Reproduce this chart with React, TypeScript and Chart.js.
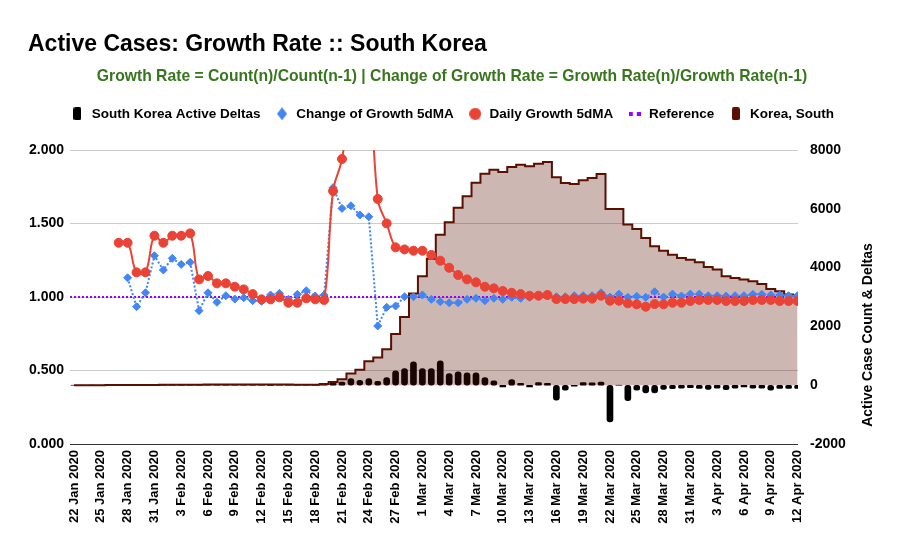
import { useEffect, useRef } from 'react';
import { Chart, registerables } from 'chart.js';

Chart.register(...registerables);

const TITLE = 'Active Cases: Growth Rate :: South Korea';
const SUBTITLE = 'Growth Rate = Count(n)/Count(n-1) | Change of Growth Rate = Growth Rate(n)/Growth Rate(n-1)';
const RIGHT_AXIS_TITLE = 'Active Case Count & Deltas';

const dates = [
  '22 Jan 2020', '23 Jan 2020', '24 Jan 2020', '25 Jan 2020', '26 Jan 2020', '27 Jan 2020', '28 Jan 2020', '29 Jan 2020', '30 Jan 2020', '31 Jan 2020',
  '1 Feb 2020', '2 Feb 2020', '3 Feb 2020', '4 Feb 2020', '5 Feb 2020', '6 Feb 2020', '7 Feb 2020', '8 Feb 2020', '9 Feb 2020', '10 Feb 2020',
  '11 Feb 2020', '12 Feb 2020', '13 Feb 2020', '14 Feb 2020', '15 Feb 2020', '16 Feb 2020', '17 Feb 2020', '18 Feb 2020', '19 Feb 2020', '20 Feb 2020',
  '21 Feb 2020', '22 Feb 2020', '23 Feb 2020', '24 Feb 2020', '25 Feb 2020', '26 Feb 2020', '27 Feb 2020', '28 Feb 2020', '29 Feb 2020', '1 Mar 2020',
  '2 Mar 2020', '3 Mar 2020', '4 Mar 2020', '5 Mar 2020', '6 Mar 2020', '7 Mar 2020', '8 Mar 2020', '9 Mar 2020', '10 Mar 2020', '11 Mar 2020',
  '12 Mar 2020', '13 Mar 2020', '14 Mar 2020', '15 Mar 2020', '16 Mar 2020', '17 Mar 2020', '18 Mar 2020', '19 Mar 2020', '20 Mar 2020', '21 Mar 2020',
  '22 Mar 2020', '23 Mar 2020', '24 Mar 2020', '25 Mar 2020', '26 Mar 2020', '27 Mar 2020', '28 Mar 2020', '29 Mar 2020', '30 Mar 2020', '31 Mar 2020',
  '1 Apr 2020', '2 Apr 2020', '3 Apr 2020', '4 Apr 2020', '5 Apr 2020', '6 Apr 2020', '7 Apr 2020', '8 Apr 2020', '9 Apr 2020', '10 Apr 2020',
  '11 Apr 2020', '12 Apr 2020',
];

const xTickLabels = [
  '22 Jan 2020', '25 Jan 2020', '28 Jan 2020', '31 Jan 2020', '3 Feb 2020', '6 Feb 2020', '9 Feb 2020', '12 Feb 2020', '15 Feb 2020', '18 Feb 2020',
  '21 Feb 2020', '24 Feb 2020', '27 Feb 2020', '1 Mar 2020', '4 Mar 2020', '7 Mar 2020', '10 Mar 2020', '13 Mar 2020', '16 Mar 2020', '19 Mar 2020',
  '22 Mar 2020', '25 Mar 2020', '28 Mar 2020', '31 Mar 2020', '3 Apr 2020', '6 Apr 2020', '9 Apr 2020', '12 Apr 2020',
];

const activeDeltas = [
  0, 0, 1, 0, 1, 1, 0, 0, 0, 7,
  1, 3, 0, 1, 3, 4, 1, 0, 1, 2,
  1, 0, -6, -1, 0, -2, 0, 0, 21, 90,
  110, 228, 170, 228, 136, 262, 486, 568, 793, 568,
  568, 827, 398, 452, 418, 418, 262, 146, -60, 194,
  60, -60, 90, 60, -510, -170, -30, 90, 80, 110,
  -1250, 0, -530, -170, -260, -260, -140, -120, -100, -80,
  -110, -140, -100, -150, -100, -60, -100, -100, -170, -110,
  -110, -110,
];

const changeOfGrowth5dMA = [
  null, null, null, null, null, null, 1.131, 0.934, 1.029, 1.281,
  1.184, 1.263, 1.222, 1.236, 0.907, 1.029, 0.964, 1.009, 0.986, 0.995,
  0.975, 0.971, 1.014, 1.025, 0.984, 1.018, 1.043, 1.007, 1.014, 1.744,
  1.603, 1.621, 1.558, 1.546, 0.803, 0.930, 0.939, 1.002, 1.002, 1.014,
  0.984, 0.968, 0.961, 0.961, 0.984, 0.991, 0.975, 0.991, 0.984, 0.998,
  0.991, 0.998, 1.005, 1.007, 1.002, 1.002, 1.009, 1.009, 1.009, 1.029,
  1.000, 1.020, 0.998, 1.005, 0.998, 1.036, 1.000, 1.020, 1.007, 1.020,
  1.020, 1.009, 1.009, 1.007, 1.009, 1.009, 1.018, 1.018, 1.014, 1.014,
  1.009, 1.009,
];

const dailyGrowth5dMA = [
  null, null, null, null, null, 1.369, 1.369, 1.168, 1.168, 1.417,
  1.369, 1.417, 1.417, 1.433, 1.120, 1.143, 1.093, 1.093, 1.070, 1.052,
  1.020, 0.984, 0.984, 0.998, 0.961, 0.961, 0.991, 0.984, 0.980, 1.721,
  1.939, 2.400, 2.900, 2.600, 1.667, 1.501, 1.338, 1.324, 1.315, 1.315,
  1.286, 1.247, 1.199, 1.150, 1.120, 1.100, 1.070, 1.059, 1.041, 1.029,
  1.020, 1.009, 1.009, 1.014, 0.986, 0.986, 0.986, 0.989, 0.989, 1.009,
  0.975, 0.975, 0.957, 0.950, 0.934, 0.952, 0.950, 0.961, 0.961, 0.973,
  0.980, 0.980, 0.980, 0.973, 0.973, 0.973, 0.980, 0.980, 0.980, 0.973,
  0.973, 0.973,
];

const referenceLevel = 1.0;

const koreaActive = [
  1, 1, 2, 2, 3, 4, 4, 4, 4, 11,
  12, 15, 15, 16, 19, 23, 24, 24, 25, 27,
  28, 28, 22, 21, 21, 19, 19, 19, 40, 105,
  200, 400, 530, 813, 945, 1220, 1745, 2320, 3116, 3704,
  4306, 5122, 5541, 6041, 6425, 6891, 7197, 7333, 7255, 7425,
  7503, 7446, 7537, 7595, 7071, 6880, 6847, 6969, 7051, 7187,
  5997, 5997, 5463, 5316, 5010, 4725, 4578, 4442, 4330, 4272,
  4180, 4024, 3932, 3704, 3650, 3592, 3534, 3446, 3276, 3194,
  3082, 3048,
];

const X_MIN = -0.45;
const X_MAX = 81.05;
const FONT = '"Liberation Sans", Arial, Helvetica, sans-serif';

const toXY = (arr: (number | null)[]) => arr.map((y, i) => ({ x: i, y }));

function makeIcon(w: number, h: number, draw: (c: CanvasRenderingContext2D) => void) {
  const cv = document.createElement('canvas');
  cv.width = w;
  cv.height = h;
  const c = cv.getContext('2d')!;
  draw(c);
  return cv;
}

export default function App() {
  const ref = useRef<HTMLCanvasElement>(null);

  useEffect(() => {
    if (!ref.current) return;
    Chart.defaults.font.family = FONT;

    const icons = [
      makeIcon(8, 13, (c) => {
        c.fillStyle = '#000';
        c.beginPath();
        (c as any).roundRect(0, 0, 8, 13, 2);
        c.fill();
      }),
      makeIcon(10, 13, (c) => {
        c.fillStyle = '#4285f4';
        c.beginPath();
        c.moveTo(5, 0);
        c.lineTo(10, 6.5);
        c.lineTo(5, 13);
        c.lineTo(0, 6.5);
        c.closePath();
        c.fill();
      }),
      makeIcon(12, 12, (c) => {
        c.fillStyle = '#ea4335';
        c.beginPath();
        c.arc(6, 6, 6, 0, Math.PI * 2);
        c.fill();
      }),
      makeIcon(12, 4, (c) => {
        c.fillStyle = '#9900ff';
        c.fillRect(0, 0, 4, 4);
        c.fillRect(8, 0, 4, 4);
      }),
      makeIcon(8, 13, (c) => {
        c.fillStyle = '#5b0f00';
        c.beginPath();
        (c as any).roundRect(0, 0, 8, 13, 2);
        c.fill();
      }),
    ];

    const legendSpacer = {
      id: 'legendSpacer',
      beforeLayout(chart: any) {
        const lg = chart.legend;
        if (lg && !lg._spaced) {
          const orig = lg.fit;
          lg.fit = function () {
            orig.call(this);
            this.height += 19.5;
          };
          lg._spaced = true;
        }
      },
    };

    const rightTitle = {
      id: 'rightTitle',
      afterDraw(chart: any) {
        const c = chart.ctx;
        c.save();
        c.translate(chart.width - 36, 335);
        c.rotate(-Math.PI / 2);
        c.font = `bold 14px ${FONT}`;
        c.fillStyle = '#000';
        c.textAlign = 'center';
        c.textBaseline = 'middle';
        c.fillText(RIGHT_AXIS_TITLE, 0, 0);
        c.restore();
      },
    };

    const tickValues = xTickLabels.map((l) => dates.indexOf(l));

    const chart = new Chart(ref.current, {
      type: 'line',
      data: {
        datasets: [
          {
            type: 'bar',
            label: 'South Korea Active Deltas',
            data: toXY(activeDeltas) as any,
            backgroundColor: '#000',
            yAxisID: 'y1',
            barThickness: 6,
            borderRadius: 3,
            borderSkipped: false,
            order: 4,
          } as any,
          {
            type: 'line',
            label: 'Change of Growth 5dMA',
            data: toXY(changeOfGrowth5dMA) as any,
            borderColor: '#4285f4',
            backgroundColor: '#4285f4',
            borderWidth: 2,
            borderDash: [2, 2],
            pointStyle: 'rectRot',
            pointRadius: 4,
            pointBorderWidth: 1,
            pointBackgroundColor: '#4285f4',
            tension: 0,
            yAxisID: 'y',
            order: 1,
          },
          {
            type: 'line',
            label: 'Daily Growth 5dMA',
            data: toXY(dailyGrowth5dMA) as any,
            borderColor: '#ea4335',
            backgroundColor: '#ea4335',
            borderWidth: 2,
            pointStyle: 'circle',
            pointRadius: 4.5,
            pointBorderWidth: 1,
            pointBackgroundColor: '#ea4335',
            tension: 0.4,
            yAxisID: 'y',
            order: 0,
          },
          {
            type: 'line',
            label: 'Reference',
            data: [
              { x: X_MIN, y: referenceLevel },
              { x: X_MAX, y: referenceLevel },
            ],
            borderColor: '#9900ff',
            borderWidth: 2,
            borderDash: [2, 2],
            pointRadius: 0,
            yAxisID: 'y',
            order: 2,
          },
          {
            type: 'line',
            label: 'Korea, South',
            data: toXY(koreaActive) as any,
            stepped: 'middle',
            fill: 'origin',
            borderColor: '#5b0f00',
            backgroundColor: 'rgba(91,15,0,0.3)',
            borderWidth: 2,
            pointRadius: 0,
            yAxisID: 'y1',
            order: 3,
          },
        ],
      },
      options: {
        responsive: true,
        maintainAspectRatio: false,
        animation: false,
        layout: { padding: { left: 28, right: 28, top: 0, bottom: 0 } },
        plugins: {
          tooltip: { enabled: false },
          title: {
            display: true,
            text: TITLE,
            align: 'start',
            color: '#000',
            font: { size: 23, weight: 'bold' },
            padding: { top: 30.5, bottom: 0 },
          },
          subtitle: {
            display: true,
            text: SUBTITLE,
            color: '#38761d',
            font: { size: 15.7, weight: 'bold' },
            padding: { top: 8.7, bottom: 7.4 },
          },
          legend: {
            position: 'top',
            labels: {
              usePointStyle: true,
              pointStyleWidth: 15,
              padding: 14,
              color: '#000',
              font: { size: 13.5, weight: 'bold' },
              sort: (a: any, b: any) => a.datasetIndex - b.datasetIndex,
              generateLabels: (ch: any) => {
                const items = (Chart.defaults.plugins.legend.labels as any).generateLabels(ch);
                return items.map((it: any) => ({
                  ...it,
                  pointStyle: icons[it.datasetIndex],
                  lineDash: [],
                  fontColor: '#000',
                }));
              },
            },
          },
        },
        scales: {
          x: {
            type: 'linear',
            min: X_MIN,
            max: X_MAX,
            offset: false,
            grid: { display: false, drawTicks: false, offset: false },
            border: { display: false },
            afterBuildTicks: (s: any) => {
              s.ticks = tickValues.map((v) => ({ value: v }));
            },
            afterFit: (s: any) => {
              s.height = 114;
            },
            ticks: {
              autoSkip: false,
              minRotation: 90,
              maxRotation: 90,
              padding: 6,
              color: '#000',
              font: { size: 13, weight: 'bold' },
              callback: (v: any) => dates[Math.round(Number(v))] ?? '',
            },
          },
          y: {
            position: 'left',
            min: 0,
            max: 2,
            border: { display: false },
            grid: {
              drawTicks: false,
              color: (ctx: any) => (ctx.tick && ctx.tick.value === 0 ? '#333' : '#ccc'),
            },
            afterFit: (s: any) => {
              s.width = 42;
            },
            ticks: {
              stepSize: 0.5,
              padding: 6,
              color: '#000',
              font: { size: 14, weight: 'bold' },
              callback: (v: any) => Number(v).toFixed(3),
            },
          },
          y1: {
            position: 'right',
            min: -2000,
            max: 8000,
            border: { display: false },
            grid: { display: false, drawTicks: false },
            afterFit: (s: any) => {
              s.width = 78;
            },
            ticks: {
              stepSize: 2000,
              padding: 12,
              color: '#000',
              font: { size: 14, weight: 'bold' },
              callback: (v: any) => String(v),
            },
          },
        },
      } as any,
      plugins: [legendSpacer, rightTitle],
    });

    return () => chart.destroy();
  }, []);

  return (
    <div style={{ position: 'absolute', left: 0, top: 0, width: 904, height: 558, background: '#fff' }}>
      <canvas ref={ref} />
    </div>
  );
}
